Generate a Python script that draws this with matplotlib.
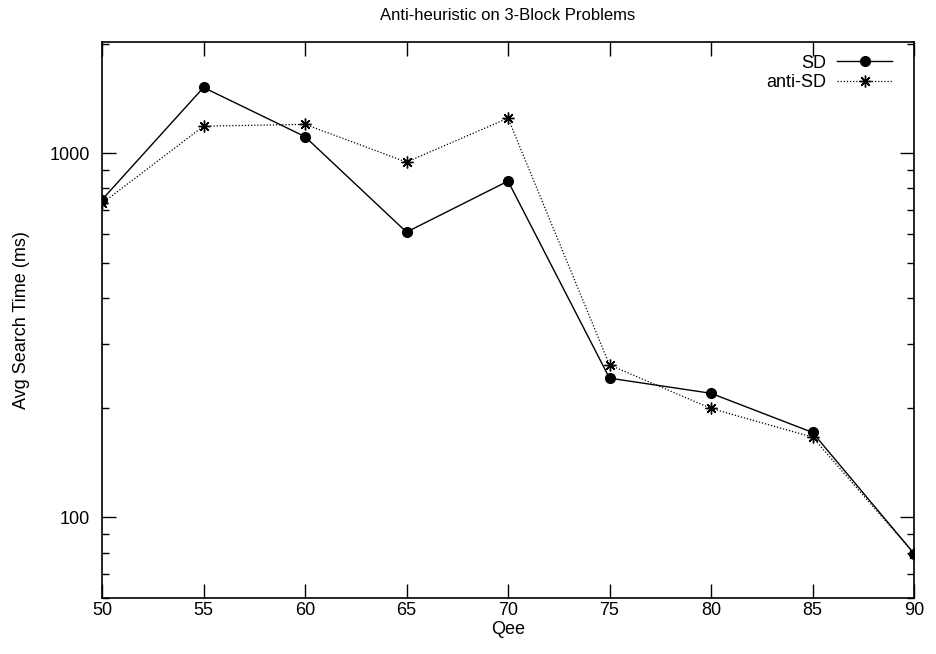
import matplotlib.pyplot as plt
from matplotlib.ticker import LogLocator, NullFormatter, FixedLocator

plt.rcParams['font.family'] = ['Liberation Sans', 'DejaVu Sans']

qee = [50, 55, 60, 65, 70, 75, 80, 85, 90]
sd = [745, 1515, 1110, 607, 838, 241, 219, 171, 79.5]
anti_sd = [728, 1186, 1200, 945, 1248, 262, 199, 166, 79.5]

fig = plt.figure(figsize=(9.36, 6.54), dpi=100)
ax = fig.add_axes([0.109, 0.0856, 0.8675, 0.8502])

ax.plot(qee, sd, color="black", linewidth=1.0, marker="o", markersize=7,
        label="SD")
ax.plot(qee, anti_sd, color="black", linewidth=0.9, linestyle=(0, (1, 1.5)),
        marker=(8, 2, 0), markersize=8.5, markeredgewidth=1.0, label="anti-SD")

ax.set_yscale("log")
ax.set_xlim(50, 90)
ax.set_ylim(60, 2020)
ax.xaxis.set_major_locator(FixedLocator(qee))
ax.yaxis.set_major_locator(FixedLocator([100, 1000]))
ax.yaxis.set_major_formatter(plt.FixedFormatter(["100", "1000"]))
ax.yaxis.set_minor_locator(LogLocator(base=10, subs=range(2, 10)))
ax.yaxis.set_minor_formatter(NullFormatter())
ax.tick_params(which="both", direction="in", top=True, right=True,
               labelsize=13, width=1.0)
ax.tick_params(axis="y", pad=9)
ax.tick_params(axis="x", pad=3)
ax.tick_params(which="major", length=10)
ax.tick_params(which="minor", length=5)
for s in ax.spines.values():
    s.set_linewidth(1.2)

ax.set_xlabel("Qee", fontsize=13, labelpad=1)
ax.set_ylabel("Avg Search Time (ms)", fontsize=13, labelpad=14)
ax.set_title("Anti-heuristic on 3-Block Problems", fontsize=12, pad=16)
ax.legend(loc="upper right", bbox_to_anchor=(0.988, 1.0), frameon=False,
          markerfirst=False, fontsize=13, handlelength=3.0, borderaxespad=0.5,
          labelspacing=0.15, handletextpad=0.6, borderpad=0.2)

plt.savefig("out.png", dpi=100)
